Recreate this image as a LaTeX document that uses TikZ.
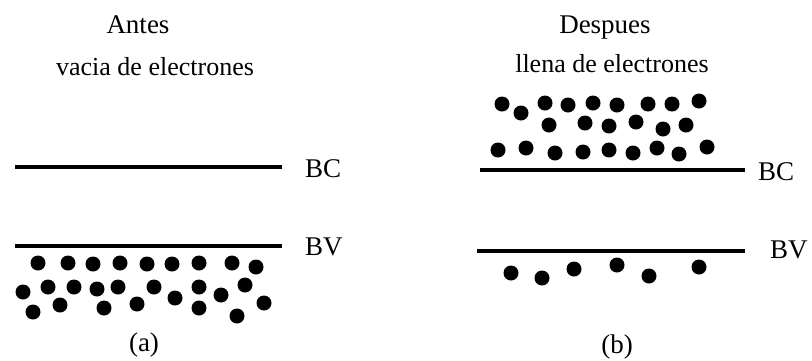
\documentclass[tikz,border=0pt]{standalone}
\usepackage{fontspec}
\setmainfont{Liberation Serif}
\begin{document}
\begin{tikzpicture}[
    x=1pt, y=-1pt,
    every node/.style={font=\fontsize{27}{32}\selectfont, inner sep=0pt, anchor=base},
    subtitle/.style={font=\fontsize{26}{31}\selectfont},
    band/.style={line width=3.4pt},
    electron/.style={fill=black}
]
\useasboundingbox (0,0) rectangle (812,360);
% antes
\node (antes) at (138,33) {Antes};
\node[subtitle] (vacia) at (155,75) {vacia de electrones};
\draw[band] (15,167) -- (282,167);
\node[anchor=base west] (bcA) at (305,177) {BC};
\draw[band] (15,246) -- (282,246);
\node[anchor=base west] (bvA) at (305,255) {BV};
\foreach \x/\y in {38/263, 68/263, 93/264, 120/263, 147/264, 172/264, 199/263, 232/263, 256/267,
    23/292, 48/287, 74/287, 97/289, 118/287, 154/287, 175/298, 199/287, 221/295, 245/285, 264/303,
    33/312, 60/305, 104/308, 137/304, 199/308, 237/316}
    \fill[electron] (\x,\y) circle (7.5);
\node (a) at (144,351) {(a)};
% despues
\node (despues) at (605,33) {Despues};
\node[subtitle] (llena) at (612,72) {llena de electrones};
\draw[band] (480,170) -- (745,170);
\node[anchor=base west] (bcB) at (758,180) {BC};
\draw[band] (477,251) -- (745,251);
\node[anchor=base west] (bvB) at (770,258) {BV};
\foreach \x/\y in {502/104, 521/113, 545/103, 568/105, 593/103, 617/105, 648/104, 672/104, 699/101,
    549/125, 585/123, 609/126, 636/122, 663/129, 686/125,
    498/150, 526/148, 555/153, 583/152, 609/150, 633/153, 657/148, 679/154, 707/147,
    511/273, 542/278, 574/269, 617/265, 649/276, 699/267}
    \fill[electron] (\x,\y) circle (7.5);
\node (b) at (617,353) {(b)};
\end{tikzpicture}
\end{document}
